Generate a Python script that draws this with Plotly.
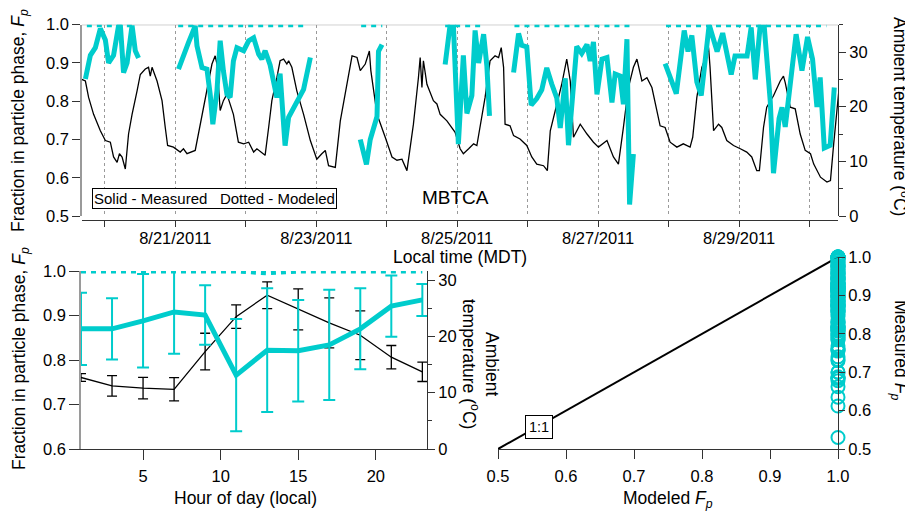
import plotly.graph_objects as go
import pandas as pd

# ---------------- data ----------------
# Top panel: ambient temperature, hours since 2011-08-19 00:00 MDT
temp_hours = [16.2, 17.4, 18.5, 20.2, 22.5, 24.2, 25.9, 27.0, 28.2, 29.0,
              29.9, 31.0, 32.1, 33.3, 35.0, 36.1, 37.8, 38.9, 39.5, 40.1,
              41.8, 43.5, 44.6, 45.4, 47.4, 49.7, 50.8, 52.0, 54.8, 56.5,
              58.8, 60.5, 61.6, 62.2, 63.3, 64.4, 65.6, 67.8, 69.5, 71.3,
              73.0, 74.7, 75.8, 78.6, 79.8, 80.9, 82.6, 83.7, 84.9, 86.0,
              86.6, 87.7, 89.4, 91.7, 94.0, 96.2, 97.9, 99.1, 100.2, 102.5,
              104.2, 105.9, 108.2, 109.9, 111.0, 112.7, 114.1, 114.6, 116.7, 119.5,
              121.8, 123.5, 125.2, 126.9, 129.1, 130.8, 131.4, 132.0, 132.5, 133.7,
              135.9, 137.1, 138.2, 140.5, 143.3, 145.0, 146.1, 147.9, 149.6, 150.7,
              151.8, 153.5, 155.2, 156.9, 158.1, 159.0, 159.8, 160.3, 162.0, 163.2,
              165.4, 167.7, 169.4, 171.1, 173.4, 174.7, 175.7, 177.9, 179.6, 181.3,
              182.5, 183.6, 185.9, 188.2, 190.4, 192.1, 195.0, 197.2, 198.9, 200.6,
              202.3, 204.0, 205.2, 206.9, 208.6, 210.3, 212.0, 213.1, 214.8, 216.5,
              218.8, 221.0, 223.3, 224.2, 225.6, 227.3, 229.0, 229.6, 230.1, 231.3,
              233.0, 234.1, 235.8, 238.1, 240.4, 242.6, 244.3, 246.0, 246.9, 248.3,
              249.4, 251.7, 254.0, 255.1, 255.7, 257.4, 259.1, 260.8, 262.5, 264.3,
              265.4, 267.7, 269.9, 271.1, 272.2, 273.4, 273.9]
temp_c = [25.0, 24.7, 21.7, 18.6, 15.6, 13.8, 13.5, 10.8, 9.8, 11.4,
          10.8, 8.6, 15.0, 18.6, 22.9, 25.9, 26.9, 27.2, 25.6, 27.2,
          24.7, 21.1, 16.2, 12.9, 12.6, 11.7, 12.3, 11.4, 12.0, 16.8,
          22.9, 27.8, 29.3, 27.8, 19.3, 21.1, 22.3, 18.6, 13.5, 13.2,
          13.5, 11.7, 12.3, 11.1, 16.2, 21.1, 25.3, 28.4, 28.7, 27.8,
          28.4, 27.2, 22.9, 18.6, 13.8, 10.4, 11.4, 12.0, 9.2, 8.9,
          17.4, 22.3, 29.3, 29.0, 26.6, 27.8, 30.2, 26.6, 18.6, 14.4,
          10.8, 10.2, 10.4, 8.3, 16.8, 25.3, 29.0, 23.5, 28.4, 24.1,
          21.1, 20.5, 18.6, 17.4, 15.3, 12.3, 11.4, 12.3, 13.2, 12.9,
          16.2, 21.7, 28.4, 29.3, 29.0, 30.8, 27.2, 16.8, 16.5, 14.7,
          14.1, 12.9, 10.8, 9.5, 9.2, 8.3, 15.6, 20.5, 24.1, 28.7,
          24.7, 14.4, 16.8, 15.0, 13.5, 12.6, 13.8, 10.8, 9.5, 16.2,
          23.5, 27.2, 28.7, 24.7, 25.3, 23.5, 19.3, 16.5, 16.2, 13.5,
          12.6, 13.2, 12.6, 14.4, 21.7, 27.2, 29.6, 30.8, 27.2, 15.6,
          16.8, 16.2, 13.8, 12.9, 12.3, 11.7, 10.8, 8.3, 8.3, 16.2,
          19.9, 22.0, 24.7, 25.6, 24.4, 19.9, 19.6, 15.0, 12.0, 11.4,
          9.5, 7.1, 6.2, 6.5, 13.2, 20.5, 22.6]

# Measured Fp (None = data gap)
meas_hours = [17.4, 19.1, 20.8, 22.5, 24.2, 25.3, 27.0, 28.7, 29.3, 30.4, 31.6, 33.3, 34.4, 35.5, None,
              49.1, 50.8, 52.5, 54.8, 55.4, 57.1, 58.8, 59.9, 60.8, 62.2, 63.3, 64.4, 65.6, 66.7, 67.8,
              69.0, 71.3, 73.0, 74.7, 76.4, 77.5, 78.6, 80.3, 82.6, 83.7, 85.4, 86.6, 91.7, 94.0, None,
              111.0, 113.1, 114.4, 116.7, 117.2, 118.4, None,
              139.9, 141.6, 142.7, 144.4, 146.1, 147.3, 149.0, 150.1, 151.3, 153.0, 154.1, 155.0, None,
              163.2, 164.9, 166.0, 167.7, 169.2, 171.1, 172.8, 174.5, 176.2, 177.9, 179.1, 180.8, 181.9,
              183.1, 184.7, 186.4, 188.2, 189.3, 190.4, 191.6, 193.3, 195.0, 196.7, 197.8, 199.5, 200.6,
              201.8, 202.7, 204.0, None,
              214.8, 218.6, 221.3, 222.6, 223.9, 225.6, 227.1, 229.8, 232.5, 234.4, 237.3, 238.6, 240.3,
              242.7, 244.1, 245.5, 247.2, 248.5, 250.6, 251.7, 253.6, 254.6, 255.7, 257.7, 259.4, 261.4,
              263.3, 265.0, 266.5, 267.6, 269.0, 271.0, 272.4]
meas_fp = [0.858, 0.92, 0.94, 0.99, 0.96, 0.90, 0.92, 0.997, 1.0, 0.875, 0.90, 0.998, 0.932, 0.913, None,
           0.884, 0.923, 0.953, 0.997, 0.945, 0.888, 0.884, 0.818, 0.740, 0.827, 0.958, 0.879, 0.818, 0.810, 0.905,
           0.940, 0.932, 0.958, 0.966, 0.923, 0.910, 0.932, 0.895, 0.81, 0.872, 0.684, 0.758, 0.831, 0.914, None,
           0.70, 0.635, 0.70, 0.76, 0.93, 0.948, None,
           0.896, 1.0, 1.0, 0.688, 0.92, 0.768, 0.815, 0.985, 0.90, 0.975, 0.893, 0.762, None,
           0.875, 0.977, 0.946, 0.942, 0.79, 0.807, 0.83, 0.887, 0.845, 0.809, 0.73, 0.86, 0.685,
           0.80, 0.943, 0.925, 0.948, 0.905, 0.955, 0.818, 0.91, 0.914, 0.797, 0.871, 0.866, 0.792,
           0.962, 0.53, 0.662, None,
           0.898, 0.82, 0.985, 0.93, 0.972, 0.85, 0.815, 1.0, 0.93, 0.978, 0.87, 0.918, 0.918,
           0.918, 0.993, 0.857, 1.0, 1.0, 0.80, 0.612, 0.755, 0.784, 0.733, 0.875, 0.975, 0.88,
           0.968, 0.91, 0.785, 0.862, 0.678, 0.685, 0.836]

# Modeled Fp (segment start / end, None = gap)
model_hours = [17.9, 34.4, None, 49.0, 92.3, None, 111.3, 118.5, None,
               139.9, 153.3, None, 163.5, 203.6, None, 215.1, 269.7]
model_fp = [1.0, 1.0, None, 1.0, 1.0, None, 1.0, 1.0, None,
            1.0, 1.0, None, 1.0, 1.0, None, 1.0, 1.0]

# Bottom-left: diurnal averages
hour_of_day = [1, 3, 5, 7, 9, 11, 13, 15, 17, 19, 21, 23]
diurnal_temp = [12.7, 11.2, 10.8, 10.6, 17.3, 23.5, 27.3, 24.8, 22.4, 20.2, 16.3, 13.7]
diurnal_temp_err = [0.68, 1.83, 1.9, 2.07, 3.25, 2.07, 2.37, 3.64, 4.44, 4.32, 2.07, 1.72]
diurnal_meas = [0.870, 0.870, 0.888, 0.908, 0.901, 0.766, 0.822, 0.821, 0.834, 0.870, 0.921, 0.935]
diurnal_meas_err = [0.081, 0.069, 0.105, 0.094, 0.067, 0.126, 0.139, 0.114, 0.124, 0.091, 0.069, 0.036]
diurnal_model = [1.0, 1.0, 1.0, 1.0, 1.0, 1.0, 0.996, 1.0, 1.0, 1.0, 1.0, 1.0]

# Bottom-right: 1:1 line
one_to_one = [0.5, 1.0]
MODELED_LEVEL = 1.0  # modeled Fp for every measured point

# ---------------- helpers ----------------
OFF = 8                 # default page (body) margin in the browser
W, H = 913 - OFF, 513 - OFF
TEAL = "rgb(0,204,204)"
FONT = "Liberation Sans, Arial, sans-serif"
TICKF = dict(family=FONT, size=16.5, color="black")
TITLEF = dict(family=FONT, size=17.5, color="black")
AX = "#333333"
AXL = "#9a9a9a"
DOTS = "5px,5px"

def px(x):
    return (x - OFF) / W

def py(y):
    return 1 - (y - OFF) / H

base = pd.Timestamp("2011-08-19 00:00")
def to_time(hs):
    return [None if h is None else (base + pd.Timedelta(hours=h)).strftime("%Y-%m-%d %H:%M:%S") for h in hs]

fig = go.Figure()

# ---- top panel ----
fig.add_trace(go.Scatter(x=to_time(temp_hours), y=temp_c, mode="lines",
                         line=dict(color="black", width=1.3), xaxis="x", yaxis="y",
                         showlegend=False, hoverinfo="skip"))
fig.add_trace(go.Scatter(x=to_time(meas_hours), y=meas_fp, mode="lines", connectgaps=False,
                         line=dict(color=TEAL, width=5), xaxis="x", yaxis="y2",
                         showlegend=False))
fig.add_trace(go.Scatter(x=to_time(model_hours), y=model_fp, mode="lines", connectgaps=False,
                         line=dict(color=TEAL, width=5, dash=DOTS), xaxis="x", yaxis="y2",
                         showlegend=False, cliponaxis=False))

# ---- bottom-left panel ----
fig.add_trace(go.Scatter(x=hour_of_day, y=diurnal_temp, mode="lines",
                         line=dict(color="black", width=1.3),
                         error_y=dict(type="data", array=diurnal_temp_err, color="black",
                                      thickness=1.3, width=5),
                         xaxis="x2", yaxis="y3", showlegend=False))
fig.add_trace(go.Scatter(x=hour_of_day, y=diurnal_meas, mode="lines",
                         line=dict(color=TEAL, width=5),
                         error_y=dict(type="data", array=diurnal_meas_err, color=TEAL,
                                      thickness=2, width=6),
                         xaxis="x2", yaxis="y4", showlegend=False, cliponaxis=False))
fig.add_trace(go.Scatter(x=hour_of_day, y=diurnal_model, mode="lines",
                         line=dict(color=TEAL, width=5, dash=DOTS),
                         xaxis="x2", yaxis="y4", showlegend=False, cliponaxis=False))

# ---- bottom-right panel ----
fig.add_trace(go.Scatter(x=one_to_one, y=one_to_one, mode="lines",
                         line=dict(color="black", width=2), xaxis="x3", yaxis="y5",
                         showlegend=False))
scatter_meas = [v for v in meas_fp if v is not None]
fig.add_trace(go.Scatter(x=[MODELED_LEVEL for _ in scatter_meas], y=scatter_meas, mode="markers",
                         marker=dict(symbol="circle-open", size=13, color=TEAL,
                                     line=dict(width=2, color=TEAL)),
                         xaxis="x3", yaxis="y5", showlegend=False, cliponaxis=False))

common = dict(showline=True, ticks="outside", tickfont=TICKF, zeroline=False,
              showgrid=False, automargin=False)

fig.update_layout(
    template="none",
    width=W, height=H,
    margin=dict(l=0, r=0, t=0, b=0, pad=0),
    paper_bgcolor="white", plot_bgcolor="white",
    font=dict(family=FONT, color="black"),
    showlegend=False,
    # top
    xaxis=dict(domain=[px(82), px(838)], anchor="free", position=py(220), type="date",
               range=["2011-08-19 16:15", "2011-08-30 09:40"],
               tick0="2011-08-21", dtick=2 * 86400000, tickformat="%-m/%-d/%Y",
               showline=True, linecolor=AX, linewidth=1, ticks="outside", ticklen=6,
               tickcolor=AX, tickfont=TICKF, showgrid=True, griddash="dot",
               gridcolor="#9a9a9a", gridwidth=1, zeroline=False, automargin=False,
               ticklabelstandoff=-3,
               minor=dict(dtick=86400000, tick0="2011-08-20", ticks="outside", ticklen=6,
                          tickcolor=AX, showgrid=True, griddash="dot", gridcolor="#9a9a9a")),
    yaxis=dict(domain=[py(216), py(24.7)], anchor="x", side="right", range=[0, 35],
               tickvals=[0, 10, 20, 30], ticklen=7, tickcolor=AX, linecolor=AX,
               minor=dict(dtick=5, ticks="outside", ticklen=4, tickcolor=AX), **common),
    yaxis2=dict(domain=[py(216), py(24.7)], anchor="x", overlaying="y", side="left",
                range=[0.5, 1.0], dtick=0.1, tickformat=".1f", ticklen=8,
                tickcolor=AX, linecolor=AXL, linewidth=1.5, **common),
    # bottom-left
    xaxis2=dict(domain=[px(81), px(427)], anchor="y3", range=[1, 23.3],
                tickvals=[5, 10, 15, 20], ticklen=10, tickcolor=AX, linecolor=AX,
                ticklabelstandoff=2, **common),
    yaxis3=dict(domain=[py(449), py(271)], anchor="x2", side="right", range=[0, 31.6],
                tickvals=[0, 10, 20, 30], ticklen=7, tickcolor=AX, linecolor=AX,
                minor=dict(dtick=5, ticks="outside", ticklen=4, tickcolor=AX), **common),
    yaxis4=dict(domain=[py(449), py(271)], anchor="x2", overlaying="y3", side="left",
                range=[0.6, 1.0], dtick=0.1, tickformat=".1f", ticklen=10,
                tickcolor=AX, linecolor=AXL, linewidth=1.5, **common),
    # bottom-right
    xaxis3=dict(domain=[px(498), px(838)], anchor="y5", range=[0.5, 1.0], dtick=0.1,
                tickformat=".1f", ticklen=9, tickcolor=AX, linecolor=AX,
                ticklabelstandoff=3, **common),
    yaxis5=dict(domain=[py(449), py(257)], anchor="x3", side="right", range=[0.5, 1.0],
                dtick=0.1, tickformat=".1f", ticklen=6, tickcolor=AX, linecolor=AX, **common),
)

# top frame line at Fp = 1.0
fig.add_shape(type="line", xref="x domain", yref="y2", x0=0, x1=1, y0=1.0, y1=1.0,
              line=dict(color="#8a8a8a", width=1), layer="below")

def ann(text, x, y, angle=0, font=TITLEF, **kw):
    fig.add_annotation(text=text, x=px(x), y=py(y), xref="paper", yref="paper",
                       showarrow=False, textangle=angle, font=font,
                       xanchor="center", yanchor="middle", **kw)

FP = "<i>F<sub>p</sub></i>"
ann("Fraction in particle phase, " + FP, 20, 121, -90)
ann("Fraction in particle phase, " + FP, 20, 359, -90)
ann("Ambient temperature (<sup>o</sup>C)", 901, 116, 90)
ann("Ambient<br>temperature (<sup>o</sup>C)", 481, 364, 90)
ann("Measured " + FP, 900, 350, 90)
ann("Local time (MDT)", 460, 257)
ann("Hour of day (local)", 245, 498)
ann("Modeled " + FP, 668, 499)
ann("MBTCA", 455, 197, font=dict(family=FONT, size=19, color="black"))
ann("Solid - Measured\u00a0\u00a0\u00a0Dotted - Modeled", 214, 198,
    font=dict(family=FONT, size=15, color="black"),
    bordercolor="black", borderwidth=1, borderpad=1, bgcolor="white")
ann("1:1", 539, 427, font=dict(family=FONT, size=14.5, color="black"),
    bordercolor="black", borderwidth=1, borderpad=3, bgcolor="white")

fig.write_html("out.html")
